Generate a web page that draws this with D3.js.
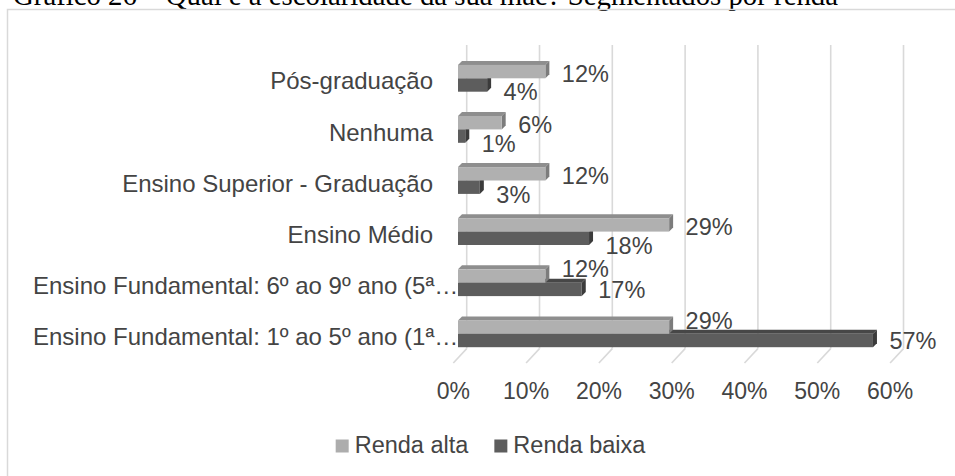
<!DOCTYPE html>
<html>
<head>
<meta charset="utf-8">
<script src="https://cdn.jsdelivr.net/npm/d3@7"></script>
<style>
  html, body { margin: 0; padding: 0; background: #fff; overflow: hidden; }
  text { font-family: "Liberation Sans", Arial, sans-serif; fill: #444; }
</style>
</head>
<body>
<svg id="chart" width="955" height="476"></svg>
<script>
"use strict";

// data
var title = "Gráfico 26 – Qual é a escolaridade da sua mãe? Segmentados por renda";
var categories = [
  "Pós-graduação",
  "Nenhuma",
  "Ensino Superior - Graduação",
  "Ensino Médio",
  "Ensino Fundamental: 6º ao 9º ano (5ª…",
  "Ensino Fundamental: 1º ao 5º ano (1ª…"
];
var seriesNames = ["Renda alta", "Renda baixa"];
var rendaAlta  = [0.12, 0.06, 0.12, 0.29, 0.12, 0.29];
var rendaBaixa = [0.04, 0.01, 0.03, 0.18, 0.17, 0.57];
var xTicks = [0, 0.1, 0.2, 0.3, 0.4, 0.5, 0.6];

var colours = {
  alta:  { front: "#b0b0b0", top: "#8e8e8e", side: "#7c7c7c", key: "#adadad" },
  baixa: { front: "#5d5d5d", top: "#474747", side: "#3b3b3b", key: "#5d5d5d" }
};
var grid = "#d9d9d9";

var svg = d3.select("#chart");
var pct = d3.format(".0%");

// 3d projection: depth vector goes up and to the right
var depth = { dx: 13.4, dy: -14.4 };   // full floor depth
var barDepth = 4;                      // thickness of the top / side faces
var barFront = 0.35;                   // bars front face, fraction of floor depth

var x = d3.scaleLinear().domain([0, 0.6]).range([458, 458 + 0.6 * 728]);
var y = d3.scaleBand().domain(categories).range([52.75, 359.35]);
var barH = 13.4;
var floorY = 363;   // front edge of the floor
var wallTop = 45;

// title, mostly cut off by the top of the page
svg.append("text")
  .attr("x", 13)
  .attr("y", 5)
  .attr("textLength", 825)
  .attr("lengthAdjust", "spacingAndGlyphs")
  .style("font-family", "'Liberation Serif', 'Times New Roman', serif")
  .style("font-size", "29px")
  .style("fill", "#000")
  .text(title);

// chart frame (runs past the right and bottom edges)
svg.append("rect")
  .attr("x", 7.5)
  .attr("y", 9.5)
  .attr("width", 1000)
  .attr("height", 500)
  .style("fill", "none")
  .style("stroke", grid)
  .style("stroke-width", 1.5);

// back wall gridlines and floor diagonals
var backX = function(v) { return x(v) - barFront * depth.dx + depth.dx; };
var backY = floorY + depth.dy;
var frontX = function(v) { return x(v) - barFront * depth.dx; };

svg.append("g").selectAll("line.grid")
  .data(xTicks).enter()
  .append("line")
    .attr("class", "grid")
    .attr("x1", backX).attr("x2", backX)
    .attr("y1", wallTop).attr("y2", backY)
    .style("stroke", grid)
    .style("stroke-width", 1.6);

svg.append("g").selectAll("line.floor")
  .data(xTicks).enter()
  .append("line")
    .attr("class", "floor")
    .attr("x1", frontX).attr("y1", floorY)
    .attr("x2", backX).attr("y2", backY)
    .style("stroke", grid)
    .style("stroke-width", 1.6);

// tick labels, centred under the front corner of the floor
svg.append("g").selectAll("text.tick")
  .data(xTicks).enter()
  .append("text")
    .attr("class", "tick")
    .attr("x", frontX)
    .attr("y", 398.5)
    .attr("text-anchor", "middle")
    .style("font-size", "23px")
    .text(pct);

// return an svg path string for a polygon
var poly = function(ps) {
  return "M" + ps.map(function(p) { return p[0] + "," + p[1]; }).join("L") + "Z";
};

// draw one 3d bar: front, top and right side faces
var drawBar = function(g, v, yTop, c) {
  var x0 = x(0), x1 = x(v), d = barDepth;
  g.append("path")
    .attr("d", poly([[x0, yTop], [x0 + d, yTop - d], [x1 + d, yTop - d], [x1, yTop]]))
    .style("fill", c.top);
  g.append("path")
    .attr("d", poly([[x1, yTop], [x1 + d, yTop - d], [x1 + d, yTop + barH - d], [x1, yTop + barH]]))
    .style("fill", c.side);
  g.append("rect")
    .attr("x", x0).attr("y", yTop)
    .attr("width", x1 - x0).attr("height", barH)
    .style("fill", c.front);
};

var rows = categories.map(function(c, i) {
  return { cat: c, alta: rendaAlta[i], baixa: rendaBaixa[i] };
});

var bars = svg.append("g");
rows.forEach(function(r) {
  var mid = y(r.cat) + y.bandwidth() / 2;
  var g = bars.append("g");
  // the lower (dark) bar first so the light one sits over its top face
  drawBar(g, r.baixa, mid, colours.baixa);
  drawBar(g, r.alta, mid - barH, colours.alta);

  // data labels; when the dark bar runs past the light one the pair spreads out
  var longer = r.baixa > r.alta;
  g.append("text")
    .attr("x", x(r.alta) + 16.5)
    .attr("y", mid - barH / 2 + (longer ? -7 : 2))
    .attr("dy", "0.36em")
    .style("font-size", "23.5px")
    .text(pct(r.alta));
  g.append("text")
    .attr("x", x(r.baixa) + 16.5)
    .attr("y", mid + barH / 2 + (longer ? 0.5 : 7))
    .attr("dy", "0.36em")
    .style("font-size", "23.5px")
    .text(pct(r.baixa));
});

// category labels, right aligned; truncated ones overflow to the left margin
var labelRight = 433, labelLeft = 33;
svg.append("g").selectAll("text.cat")
  .data(categories).enter()
  .append("text")
    .attr("class", "cat")
    .attr("y", function(d) { return y(d) + y.bandwidth() / 2 + 2.5; })
    .attr("dy", "0.36em")
    .style("font-size", "24px")
    .text(function(d) { return d; })
    .each(function() {
      var t = d3.select(this);
      var w = this.getComputedTextLength();
      if (w > labelRight - labelLeft) {
        t.attr("x", labelLeft).attr("text-anchor", "start");
      } else {
        t.attr("x", labelRight).attr("text-anchor", "end");
      }
    });

// legend, centred under the plot
var legend = svg.append("g");
var keyColours = [colours.alta.key, colours.baixa.key];
var cursor = 0;
seriesNames.forEach(function(name, i) {
  var item = legend.append("g").attr("transform", "translate(" + cursor + ",0)");
  item.append("rect")
    .attr("x", 0).attr("y", -13)
    .attr("width", 13).attr("height", 13)
    .style("fill", keyColours[i]);
  var t = item.append("text")
    .attr("x", 19).attr("y", 0)
    .style("font-size", "23.5px")
    .text(name);
  cursor += 19 + t.node().getComputedTextLength() + 26;
});
var legendW = cursor - 26;
legend.attr("transform", "translate(" + (490.5 - legendW / 2) + ",452.5)");
</script>
</body>
</html>
